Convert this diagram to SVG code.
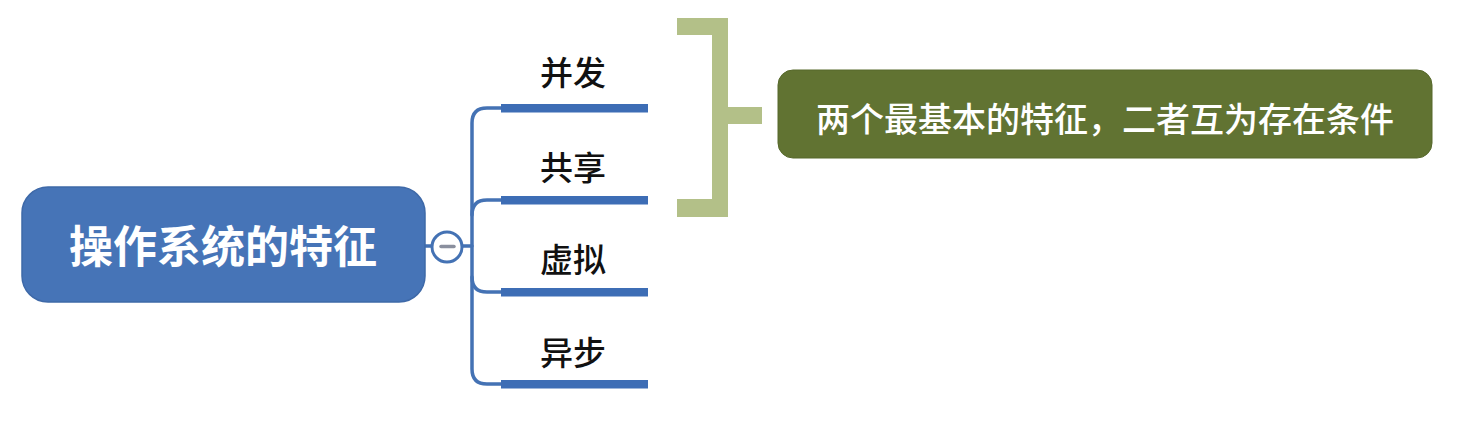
<svg xmlns="http://www.w3.org/2000/svg" width="1461" height="433" viewBox="0 0 1461 433">
<style>
.cjk{font-family:"Noto Sans CJK SC","Noto Sans",sans-serif;}
.lbl{font-size:33px;fill:#111;text-anchor:middle;font-weight:500;}
.thin{fill:none;stroke:#4472b4;stroke-width:3.5;stroke-linecap:round;}
.bar{fill:#3d6db5;}
.brk{fill:#b3c088;}
</style>
<rect width="1461" height="433" fill="#ffffff"/>
<g id="connectors">
  <line class="thin" x1="425" y1="246" x2="432" y2="246"/>
  <line class="thin" x1="462" y1="246" x2="472" y2="246"/>
  <path class="thin" d="M502,108 L487,108 Q472,108 472,123 L472,369 Q472,384 487,384 L502,384"/>
  <path class="thin" d="M472,215 Q472,200 487,200 L502,200"/>
  <path class="thin" d="M472,277 Q472,292 487,292 L502,292"/>
  <rect class="bar" x="501" y="104" width="147" height="8.5"/>
  <rect class="bar" x="501" y="196" width="147" height="8.5"/>
  <rect class="bar" x="501" y="288" width="147" height="8.5"/>
  <rect class="bar" x="501" y="380" width="147" height="8.5"/>
</g>
<g id="root">
  <rect x="22" y="187" width="403" height="115" rx="26" fill="#4674b7" stroke="#3e69a8" stroke-width="1.5"/>
  <text class="cjk" x="223" y="263" font-size="44" font-weight="700" fill="#ffffff" text-anchor="middle">操作系统的特征</text>
</g>
<g id="collapse">
  <circle cx="447" cy="247" r="15" fill="#ffffff" stroke="#4472b4" stroke-width="3"/>
  <line x1="441" y1="246.5" x2="454" y2="246.5" stroke="#8a8f9e" stroke-width="3.5" stroke-linecap="round"/>
</g>
<g id="n-bingfa"><text class="cjk lbl" x="573" y="85">并发</text></g>
<g id="n-gongxiang"><text class="cjk lbl" x="573" y="180">共享</text></g>
<g id="n-xuni"><text class="cjk lbl" x="573" y="272">虚拟</text></g>
<g id="n-yibu"><text class="cjk lbl" x="573" y="365">异步</text></g>
<g id="bracket">
  <path class="brk" d="M677,18 L728,18 L728,107 L762,107 L762,124 L728,124 L728,217 L677,217 L677,199 L712,199 L712,35 L677,35 Z"/>
</g>
<g id="summary">
  <rect x="778" y="70" width="654" height="88" rx="15" fill="#617332" stroke="#56682a" stroke-width="1"/>
  <text class="cjk" x="1105" y="132" font-size="34" font-weight="500" fill="#ffffff" text-anchor="middle">两个最基本的特征，二者互为存在条件</text>
</g>
</svg>
